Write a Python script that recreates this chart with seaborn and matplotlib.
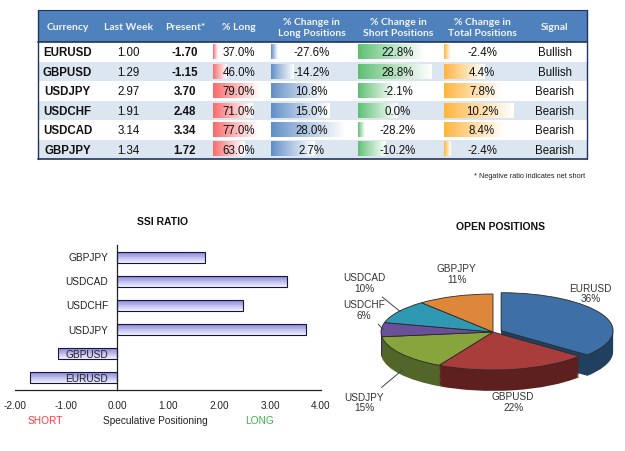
import numpy as np
import pandas as pd
import seaborn as sns
import matplotlib.pyplot as plt
from matplotlib.patches import Rectangle
from matplotlib.colors import to_rgb

# ---- data ----
pairs = ['EURUSD', 'GBPUSD', 'USDJPY', 'USDCHF', 'USDCAD', 'GBPJPY']
last_week = [1.00, 1.29, 2.97, 1.91, 3.14, 1.34]
present = [-1.70, -1.15, 3.70, 2.48, 3.34, 1.72]
pct_long = [37.0, 46.0, 79.0, 71.0, 77.0, 63.0]
chg_long = [-27.6, -14.2, 10.8, 15.0, 28.0, 2.7]
chg_short = [22.8, 28.8, -2.1, 0.0, -28.2, -10.2]
chg_total = [-2.4, 4.4, 7.8, 10.2, 8.4, -2.4]
signal = ['Bullish', 'Bullish', 'Bearish', 'Bearish', 'Bearish', 'Bearish']
open_share = [36, 22, 15, 6, 10, 11]

headers = ['Currency', 'Last Week', 'Present*', '% Long',
           '% Change in\nLong Positions', '% Change in\nShort Positions',
           '% Change in\nTotal Positions', 'Signal']

sns.set_style('white')
plt.rcParams['font.family'] = ['Liberation Sans', 'DejaVu Sans']

W, H = 625, 452
fig = plt.figure(figsize=(W / 100, H / 100), dpi=100)
fig.patch.set_facecolor('white')


def px(x, y):
    return x / W, 1 - y / H


def hgrad(ax, x0, x1, y0, y1, color):
    rgb = np.array(to_rgb(color))
    t = np.linspace(0, 1, 64)[None, :, None] ** 0.9
    img = rgb + (1 - rgb) * t
    ax.imshow(img, extent=(x0, x1, y1, y0), aspect='auto',
              interpolation='bilinear', zorder=2)


# ---- table (pixel coordinate overlay) ----
ax_t = fig.add_axes([0, 0, 1, 1])
ax_t.set_xlim(0, W)
ax_t.set_ylim(H, 0)
ax_t.axis('off')

col_edges = [38, 97, 160, 210, 268, 355, 441, 523, 587]
head_top, head_bot, row_h = 11, 43, 19.5
centers = [(a + b) / 2 for a, b in zip(col_edges[:-1], col_edges[1:])]

ax_t.add_patch(Rectangle((col_edges[0], head_top), col_edges[-1] - col_edges[0],
                         head_bot - head_top, facecolor='#4f81bd', edgecolor='none', zorder=1))
for c, h in zip(centers, headers):
    ax_t.text(c, (head_top + head_bot) / 2 + 1, h, ha='center', va='center',
              fontsize=7.5, fontweight='bold', color='#f2f5fb', family=['Lato', 'DejaVu Sans'],
              linespacing=1.25, zorder=3)

n = len(pairs)
for i in range(n):
    y0 = head_bot + i * row_h
    ax_t.add_patch(Rectangle((col_edges[0], y0), col_edges[-1] - col_edges[0], row_h,
                             facecolor='white' if i % 2 == 0 else '#dce6f1',
                             edgecolor='none', zorder=1))

bar_cols = [(3, pct_long, '#f8696b'), (4, chg_long, '#5f8dc6'),
            (5, chg_short, '#5cbf72'), (6, chg_total, '#ffb43c')]
for ci, vals, colr in bar_cols:
    vmin, vmax = min(vals), max(vals)
    cw = col_edges[ci + 1] - col_edges[ci] - 6
    for i, v in enumerate(vals):
        y0 = head_bot + i * row_h + 2.5
        L = cw * (0.08 + 0.84 * (v - vmin) / (vmax - vmin))
        hgrad(ax_t, col_edges[ci] + 3, col_edges[ci] + 3 + L, y0, y0 + row_h - 5, colr)

for i in range(n):
    yc = head_bot + (i + 0.5) * row_h + 0.5
    cells = [pairs[i], f'{last_week[i]:.2f}', f'{present[i]:.2f}', f'{pct_long[i]:.1f}%',
             f'{chg_long[i]:.1f}%', f'{chg_short[i]:.1f}%', f'{chg_total[i]:.1f}%', signal[i]]
    for j, (c, s) in enumerate(zip(centers, cells)):
        ax_t.text(c, yc, s, ha='center', va='center', fontsize=8.3, color='#111111',
                  fontweight='bold' if j in (0, 2) else 'normal', zorder=4)

ax_t.plot([col_edges[0], col_edges[-1]], [head_bot, head_bot], color='#1f3560', lw=1.2, zorder=5)
ax_t.plot([col_edges[0], col_edges[-1]], [head_top, head_top], color='#1f3560', lw=0.8, zorder=5)
ax_t.plot([col_edges[0], col_edges[-1]], [head_bot + n * row_h] * 2, color='#1f3560', lw=1.2, zorder=5)
for x in (col_edges[0], col_edges[-1]):
    ax_t.plot([x, x], [head_top, head_bot + n * row_h], color='#1f3560', lw=1.0, zorder=5)
ax_t.set_xlim(0, W)
ax_t.set_ylim(H, 0)

ax_t.text(585, 177, '* Negative ratio indicates net short', ha='right', va='center',
          fontsize=5.3, color='#222222')

# ---- SSI ratio bar chart ----
ax_b = fig.add_axes([15 / W, 1 - 391 / H, 306 / W, 145 / H])
order = pairs[::-1]
df_ssi = pd.DataFrame({'pair': pairs, 'ssi': present})
sns.barplot(data=df_ssi, x='ssi', y='pair', order=order, orient='h', ax=ax_b,
            width=0.45, color='#c8c8f4', saturation=1, edgecolor='#15153a', linewidth=0.8)
top_c, bot_c = np.array(to_rgb('#8686dc')), np.array(to_rgb('#f4f4ff'))
for p in list(ax_b.patches):
    bb = p.get_bbox()
    t = np.linspace(0, 1, 32)[:, None, None]
    img = top_c * (1 - t) + bot_c * t
    im = ax_b.imshow(img, extent=(min(bb.x0, bb.x1), max(bb.x0, bb.x1), bb.y1, bb.y0),
                     aspect='auto', interpolation='bilinear', zorder=0.9)
    im.set_clip_path(p)
    p.set_facecolor('none')
ax_b.set_xlim(-2, 4)
ax_b.set_ylim(5.5, -0.5)

for s in ('top', 'right'):
    ax_b.spines[s].set_visible(False)
ax_b.spines['left'].set_position(('data', 0))
for s in ('left', 'bottom'):
    ax_b.spines[s].set_color('#222222')
    ax_b.spines[s].set_linewidth(0.9)
ax_b.set_xticks(np.arange(-2, 4.01, 1))
ax_b.set_xticklabels([f'{v:.2f}' for v in np.arange(-2, 4.01, 1)])
ax_b.set_yticks(np.arange(-0.5, 6, 1), minor=True)
ax_b.set_yticks(range(len(order)))
ax_b.set_yticklabels([])
ax_b.tick_params(axis='x', direction='in', length=4, width=0.8, color='#222222',
                 labelsize=7.2, labelcolor='#222222', pad=7)
ax_b.tick_params(axis='y', which='major', length=0)
ax_b.tick_params(axis='y', which='minor', length=3, width=0.8, color='#222222', direction='out')
for i, name in enumerate(order):
    ax_b.text(-0.17, i, name, ha='right', va='center', fontsize=7.3, color='#222222',
              zorder=10, clip_on=False)
ax_b.set_xlabel('')
ax_b.set_ylabel('')
ax_b.grid(False)

fig.text(*px(163, 222), 'SSI RATIO', ha='center', va='center', fontsize=7.5,
         fontweight='bold', color='#111111')
fig.text(*px(45, 421), 'SHORT', ha='center', va='center', fontsize=7.3, color='#ff3b3b')
fig.text(*px(155, 421), 'Speculative Positioning', ha='center', va='center', fontsize=7.3,
         color='#222222')
fig.text(*px(260, 421), 'LONG', ha='center', va='center', fontsize=7.3, color='#3cb44b')

# ---- open positions 3D-style pie ----
cx, cy, rx, ry = 493, 333, 112, 38
ax_p = fig.add_axes([330 / W, 1 - 440 / H, 295 / W, 200 / H])
top_cols = ['#3e6fa6', '#a83d3c', '#88a43c', '#6a4f99', '#2f98b2', '#de863a']
side_cols = ['#21405f', '#5e1f1f', '#52662a', '#3e2c5e', '#1a5c6c', '#8a5020']
explode = [0.08, 0, 0, 0, 0, 0]
depth = 0.55
for d in np.linspace(depth, 0.02, 18):
    ax_p.pie(open_share, colors=side_cols, startangle=90, counterclock=False,
             explode=explode, center=(0, -d), wedgeprops=dict(linewidth=0))
wedges, _ = ax_p.pie(open_share, colors=top_cols, startangle=90, counterclock=False,
                     explode=explode, wedgeprops=dict(linewidth=0.6, edgecolor='#2a2a2a'))
for w, name, v in zip(wedges, pairs, open_share):
    th = np.deg2rad((w.theta1 + w.theta2) / 2)
    c, s = np.cos(th), np.sin(th)
    sg = np.sign(s)
    txt = f'{name}\n{v}%'
    if c < -0.5:
        lx = -1.15
        ly = 1.5 * s + 0.5 * sg - (0.5 if s < 0 else 0)
        ey = s - (depth * 0.8 if s < 0 else 0)
        ax_p.annotate(txt, xy=(c * 0.98, ey), xytext=(lx, ly), ha='center', va='center',
                      fontsize=7.2, color='#333333', linespacing=1.1,
                      arrowprops=dict(arrowstyle='-', color='#444444', lw=0.7,
                                      shrinkA=1, shrinkB=0))
    else:
        lx = 0.96 * c
        ly = s + 0.6 * sg - (0.25 if s < 0 else 0)
        ax_p.text(lx, ly, txt, ha='center', va='center', fontsize=7.2,
                  color='#333333', linespacing=1.1)
ax_p.set_aspect('auto')
ax_p.set_xlim((330 - cx) / rx, (625 - cx) / rx)
ax_p.set_ylim((cy - 440) / ry, (cy - 240) / ry)
ax_p.axis('off')

fig.text(*px(500, 227), 'OPEN POSITIONS', ha='center', va='center', fontsize=7.5,
         fontweight='bold', color='#111111')

fig.savefig('out.png', dpi=100)
